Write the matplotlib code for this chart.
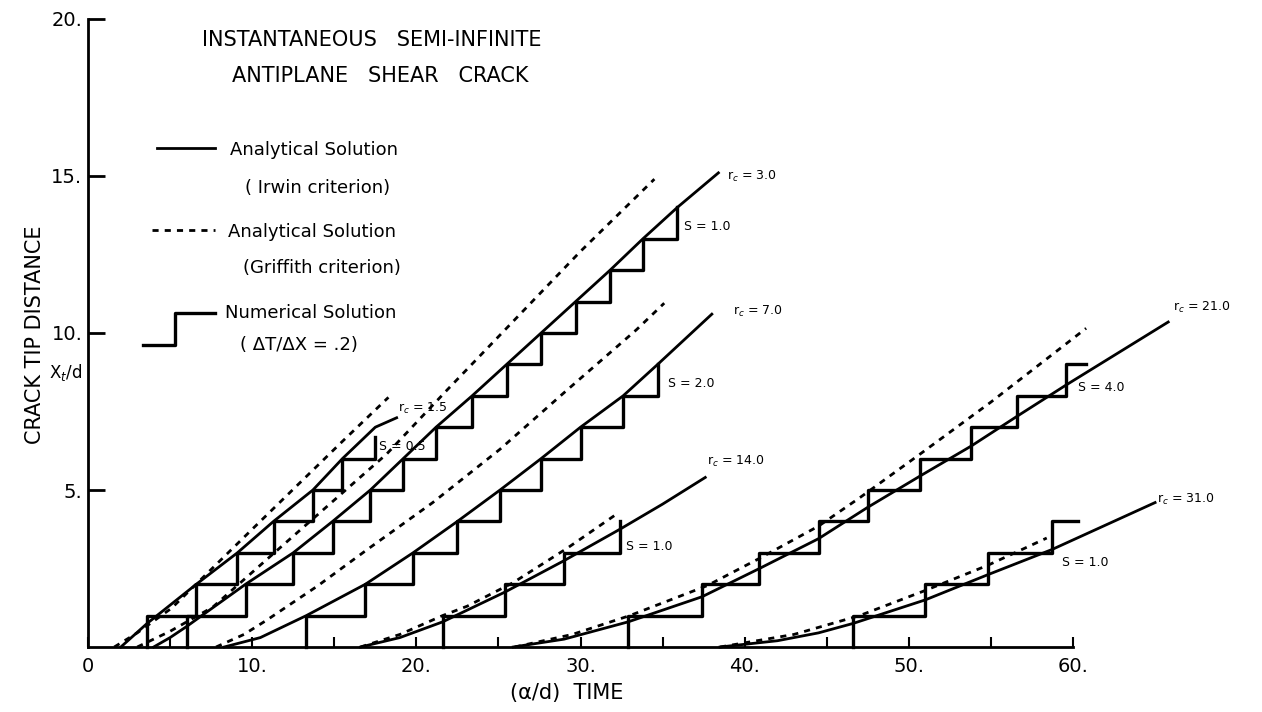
import matplotlib.pyplot as plt
from matplotlib.lines import Line2D

# ---- data: time (alpha/d) vs crack tip distance x_t/d ----
# r_c = 1.5
r15_irwin_t = [2.0, 3.6, 6.6, 9.1, 11.3, 13.7, 15.5, 17.5, 18.8]
r15_irwin_y = [0.0, 0.75, 2.0, 3.0, 4.0, 5.0, 6.0, 7.0, 7.3]
r15_griff_t = [1.6, 3.0, 5.1, 10.0, 15.5, 18.3]
r15_griff_y = [0.0, 0.45, 1.24, 3.75, 6.55, 7.95]
r15_num_t = [3.6, 3.6, 6.6, 9.1, 11.3, 13.7, 15.5, 17.5]
r15_num_y = [0, 1, 2, 3, 4, 5, 6, 6.7]

# r_c = 3.0
r3_irwin_t = [4.0, 5.0, 6.0, 9.6, 12.5, 14.9, 17.2, 19.2, 21.2, 23.4, 25.5,
              27.6, 29.7, 31.8, 33.8, 35.9, 38.4]
r3_irwin_y = [0.0, 0.3, 0.65, 2, 3, 4, 5, 6, 7, 8, 9, 10, 11, 12, 13, 14, 15.1]
r3_griff_t = [3.0, 5.0, 7.6, 12.0, 18.2, 21.9, 25.4, 30.0, 34.5]
r3_griff_y = [0.0, 0.5, 1.27, 3.3, 6.15, 8.2, 10.1, 12.6, 14.9]
r3_num_t = [6.0, 6.0, 9.6, 12.5, 14.9, 17.2, 19.2, 21.2, 23.4, 25.5, 27.6,
            29.7, 31.8, 33.8, 35.9]
r3_num_y = [0, 1, 2, 3, 4, 5, 6, 7, 8, 9, 10, 11, 12, 13, 14]

# r_c = 7.0
r7_irwin_t = [8.3, 10.5, 13.3, 16.9, 19.8, 22.5, 25.1, 27.6, 30.0, 32.6, 34.7, 38.0]
r7_irwin_y = [0.0, 0.3, 1, 2, 3, 4, 5, 6, 7, 8, 9, 10.6]
r7_griff_t = [7.8, 9.5, 10.9, 14.0, 17.0, 21.0, 25.1, 29.0, 33.4, 35.1]
r7_griff_y = [0.0, 0.4, 0.86, 1.95, 3.1, 4.6, 6.3, 8.1, 10.1, 10.95]
r7_num_t = [13.3, 13.3, 16.9, 19.8, 22.5, 25.1, 27.6, 30.0, 32.6, 34.7]
r7_num_y = [0, 1, 2, 3, 4, 5, 6, 7, 8, 9]

# r_c = 14.0
r14_irwin_t = [16.6, 19.0, 21.6, 25.4, 29.0, 32.4, 35.0, 37.6]
r14_irwin_y = [0.0, 0.3, 0.8, 1.75, 2.75, 3.75, 4.55, 5.4]
r14_griff_t = [16.6, 19.0, 21.6, 23.1, 25.9, 29.2, 32.3]
r14_griff_y = [0.0, 0.4, 1.0, 1.3, 2.05, 3.15, 4.27]
r14_num_t = [21.6, 21.6, 25.4, 29.0, 32.4]
r14_num_y = [0, 1, 2, 3, 4]

# r_c = 21.0
r21_irwin_t = [25.9, 29.0, 32.9, 37.4, 40.9, 44.5, 47.5, 50.7, 53.8, 56.6, 59.6, 65.8]
r21_irwin_y = [0.0, 0.25, 0.8, 1.6, 2.5, 3.45, 4.45, 5.45, 6.4, 7.35, 8.35, 10.35]
r21_griff_t = [26.0, 29.5, 33.0, 37.7, 41.0, 44.5, 47.0, 50.7, 55.0, 60.8]
r21_griff_y = [0.0, 0.4, 1.0, 1.95, 2.85, 3.85, 4.75, 6.15, 7.8, 10.15]
r21_num_t = [32.9, 32.9, 37.4, 40.9, 44.5, 47.5, 50.7, 53.8, 56.6, 59.6, 60.8]
r21_num_y = [0, 1, 2, 3, 4, 5, 6, 7, 8, 9, 9]

# r_c = 31.0
r31_irwin_t = [38.5, 42.0, 44.5, 46.6, 51.0, 54.8, 58.7, 65.0]
r31_irwin_y = [0.0, 0.2, 0.45, 0.75, 1.5, 2.3, 3.1, 4.6]
r31_griff_t = [38.5, 43.0, 47.0, 51.0, 54.8, 58.4]
r31_griff_y = [0.0, 0.4, 1.0, 1.8, 2.6, 3.47]
r31_num_t = [46.6, 46.6, 51.0, 54.8, 58.7, 60.3]
r31_num_y = [0, 1, 2, 3, 4, 4]

# curve labels: (text, t, y)
rc_labels = [("r$_c$ = 1.5", 18.9, 7.6), ("r$_c$ = 3.0", 38.9, 15.0),
             ("r$_c$ = 7.0", 39.3, 10.7), ("r$_c$ = 14.0", 37.7, 5.9),
             ("r$_c$ = 21.0", 66.1, 10.8), ("r$_c$ = 31.0", 65.1, 4.7)]
s_labels = [("S = 0.5", 17.7, 6.4), ("S = 1.0", 36.3, 13.4),
            ("S = 2.0", 35.3, 8.4), ("S = 1.0", 32.8, 3.2),
            ("S = 4.0", 60.3, 8.25), ("S = 1.0", 59.3, 2.7)]

xticks = [0, 10, 20, 30, 40, 50, 60]
xticklabels = ["0", "10.", "20.", "30.", "40.", "50.", "60."]
yticks = [5, 10, 15, 20]
yticklabels = ["5.", "10.", "15.", "20."]

W, H = 1262, 712
fig = plt.figure(figsize=(W / 100, H / 100), dpi=100)
ax = fig.add_axes([88 / W, 1 - 647 / H, (1073 - 88) / W, (647 - 19) / H])

lw = 2.0
dash = (0, (2.2, 2.2))
irwin = [(r15_irwin_t, r15_irwin_y), (r3_irwin_t, r3_irwin_y), (r7_irwin_t, r7_irwin_y),
         (r14_irwin_t, r14_irwin_y), (r21_irwin_t, r21_irwin_y), (r31_irwin_t, r31_irwin_y)]
griff = [(r15_griff_t, r15_griff_y), (r3_griff_t, r3_griff_y), (r7_griff_t, r7_griff_y),
         (r14_griff_t, r14_griff_y), (r21_griff_t, r21_griff_y), (r31_griff_t, r31_griff_y)]
numer = [(r15_num_t, r15_num_y), (r3_num_t, r3_num_y), (r7_num_t, r7_num_y),
         (r14_num_t, r14_num_y), (r21_num_t, r21_num_y), (r31_num_t, r31_num_y)]

for t, y in irwin:
    ax.plot(t, y, color="black", lw=lw, clip_on=False)
for t, y in griff:
    ax.plot(t, y, color="black", lw=lw, ls=dash, clip_on=False)
for t, y in numer:
    ax.step(t, y, where="post", color="black", lw=2.4, clip_on=False)

for txt, t, y in rc_labels + s_labels:
    ax.text(t, y, txt, fontsize=9, va="center", ha="left")

ax.set_xlim(0, 60)
ax.set_ylim(0, 20)
ax.spines["top"].set_visible(False)
ax.spines["right"].set_visible(False)
ax.spines["left"].set_linewidth(2)
ax.spines["bottom"].set_linewidth(2)
ax.set_xticks(xticks)
ax.set_xticklabels(xticklabels, fontsize=14)
ax.set_xticks(range(5, 60, 10), minor=True)
ax.set_yticks(yticks)
ax.set_yticklabels(yticklabels, fontsize=14)
ax.tick_params(axis="x", which="both", direction="in", length=7, width=1.5, pad=7)
ax.tick_params(axis="y", direction="in", length=12, width=2, pad=4)

fig.text(35 / W, 1 - 335 / H, "CRACK TIP DISTANCE", rotation=90, fontsize=15,
         ha="center", va="center")
fig.text(66 / W, 1 - 372 / H, "X$_t$/d", fontsize=12, ha="center", va="center")
fig.text(567 / W, 1 - 693 / H, "(α/d)  TIME", fontsize=15, ha="center", va="center")

# title block
fig.text(372 / W, 1 - 40 / H, "INSTANTANEOUS   SEMI-INFINITE", fontsize=15,
         ha="center", va="center")
fig.text(380 / W, 1 - 76 / H, "ANTIPLANE   SHEAR   CRACK", fontsize=15,
         ha="center", va="center")

# legend block
def fx(px):
    return px / W

def fy(py):
    return 1 - py / H

fig.add_artist(Line2D([fx(157), fx(215)], [fy(148), fy(148)], color="black", lw=lw))
fig.add_artist(Line2D([fx(152), fx(215)], [fy(230), fy(230)], color="black", lw=lw, ls=dash))
fig.add_artist(Line2D([fx(143), fx(175), fx(175), fx(215)],
                      [fy(345), fy(345), fy(313), fy(313)], color="black", lw=2.4))
leg_txt = [("Analytical Solution", 230, 150), ("( Irwin criterion)", 245, 188),
           ("Analytical Solution", 228, 232), ("(Griffith criterion)", 243, 268),
           ("Numerical Solution", 225, 313), ("( ΔT/ΔX = .2)", 240, 345)]
for txt, px, py in leg_txt:
    fig.text(fx(px), fy(py), txt, fontsize=13, ha="left", va="center")

fig.savefig("out.png", dpi=100)
